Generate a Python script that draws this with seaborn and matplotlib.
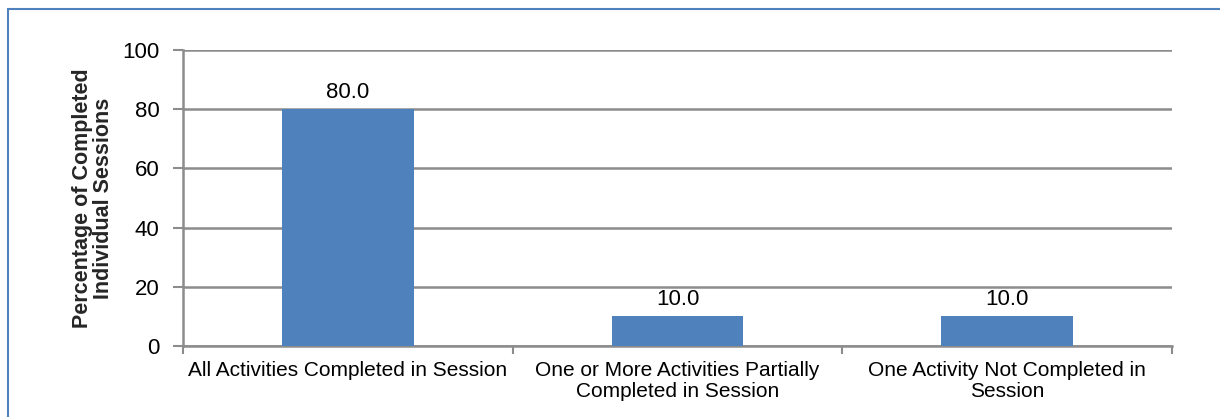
import matplotlib
matplotlib.use("Agg")
import matplotlib.pyplot as plt
from matplotlib.patches import Rectangle
import seaborn as sns
import pandas as pd

categories = [
    "All Activities Completed in Session",
    "One or More Activities Partially\nCompleted in Session",
    "One Activity Not Completed in\nSession",
]
values = [80.0, 10.0, 10.0]
y_ticks = [0, 20, 40, 60, 80, 100]

sns.set_theme(style="white")
plt.rcParams["font.family"] = ["Liberation Sans", "DejaVu Sans"]
plt.rcParams["text.color"] = "black"
plt.rcParams["xtick.color"] = "black"
plt.rcParams["ytick.color"] = "black"

df = pd.DataFrame({"category": categories, "value": values})

fig = plt.figure(figsize=(12.2, 4.17), dpi=100)
ax = fig.add_axes([183 / 1220, 1 - 346 / 417, (1172 - 183) / 1220, (346 - 50) / 417])

sns.barplot(data=df, x="category", y="value", color="#4F81BD", width=0.4,
            saturation=1, linewidth=0, edgecolor="none", ax=ax, zorder=3)

grid_col = "#8C8C8C"
ax.set_ylim(0, 100)
ax.set_xlim(-0.5, len(categories) - 0.5)
ax.set_yticks(y_ticks)
ax.set_yticklabels([str(t) for t in y_ticks], fontsize=16)
for t in y_ticks:
    ax.axhline(t, color=grid_col, lw=1.8, zorder=1)

# category ticks sit between the bars
ax.set_xticks([i - 0.5 for i in range(len(categories) + 1)], minor=False)
ax.set_xticklabels([])
ax.set_xticks(range(len(categories)), minor=True)
ax.set_xticklabels(categories, minor=True, fontsize=15, linespacing=1.1)
ax.tick_params(axis="x", which="major", direction="out", length=6, width=1.5, color=grid_col, bottom=True)
ax.tick_params(axis="x", which="minor", length=0, pad=11)
ax.tick_params(axis="y", direction="out", length=7, width=1.5, color=grid_col, left=True, pad=10)

for side in ["top", "right"]:
    ax.spines[side].set_visible(False)
for side in ["left", "bottom"]:
    ax.spines[side].set_color(grid_col)
    ax.spines[side].set_linewidth(1.8)

ax.set_xlabel("")
ax.set_ylabel("Percentage of Completed\nIndividual Sessions", fontsize=15.5,
              fontweight="bold", labelpad=6, linespacing=1.0)

for i, v in enumerate(values):
    ax.text(i, v + 2.0, f"{v:.1f}", ha="center", va="bottom", fontsize=16)

# outer frame of the chart area
fig.patches.append(Rectangle((8 / 1220, -0.1), 1.2, 1 - 9 / 417 + 0.1,
                             transform=fig.transFigure, fill=False,
                             edgecolor="#4F81BD", lw=1.5))

fig.savefig("out.png", dpi=100)
